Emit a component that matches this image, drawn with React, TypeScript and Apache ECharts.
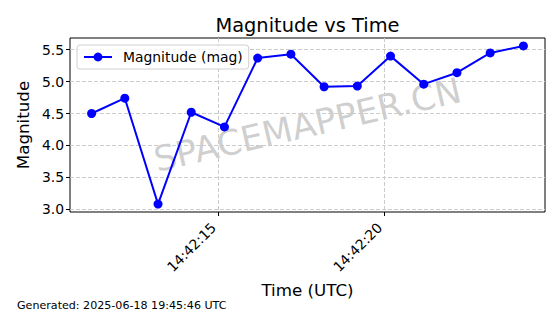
import React, { useEffect, useRef } from "react";
import * as echarts from "echarts";

const timeSeconds = [11.2, 12.2, 13.2, 14.2, 15.2, 16.2, 17.2, 18.2, 19.2, 20.2, 21.2, 22.2, 23.2, 24.2];
const magnitudes = [4.5, 4.74, 3.08, 4.52, 4.29, 5.37, 5.43, 4.92, 4.93, 5.4, 4.96, 5.14, 5.45, 5.56];
const xTickValues = [15, 20];
const yTickValues = [3.0, 3.5, 4.0, 4.5, 5.0, 5.5];

const FONT = "DejaVu Sans";

export default function App() {
  const ref = useRef<HTMLDivElement>(null);
  useEffect(() => {
    if (!ref.current) return;
    const chart = echarts.init(ref.current, null, { renderer: "svg" });
    const data = timeSeconds.map((t, i) => [t, magnitudes[i]]);
    const gridLine = { show: true, lineStyle: { color: "#cccccc", type: [4, 2], width: 1 } };
    chart.setOption({
      animation: false,
      textStyle: { fontFamily: FONT },
      grid: {
        left: 70,
        right: 15,
        top: 38,
        bottom: 102,
        show: true,
        borderColor: "#000",
        borderWidth: 1,
        backgroundColor: "transparent",
      },
      legend: {
        show: true,
        left: 77,
        top: 45,
        orient: "vertical",
        padding: [5, 6],
        itemWidth: 28,
        itemHeight: 11,
        borderColor: "#d0d0d0",
        borderWidth: 1,
        borderRadius: 3,
        backgroundColor: "rgba(255,255,255,0.8)",
        textStyle: { fontFamily: FONT, fontSize: 13.9, color: "#000", padding: [0, 0, 0, 6] },
        data: ["Magnitude (mag)"],
      },
      xAxis: {
        type: "value",
        min: 10.55,
        max: 24.85,
        name: "Time (UTC)",
        nameLocation: "middle",
        nameGap: 68,
        nameTextStyle: { fontFamily: FONT, fontSize: 16.7, color: "#000" },
        axisLine: { show: false },
        axisTick: { show: true, customValues: xTickValues, length: 4, lineStyle: { color: "#000" } },
        axisLabel: {
          customValues: xTickValues,
          rotate: 45,
          margin: 9,
          padding: [0, 6, 0, 0],
          fontFamily: FONT,
          fontSize: 13.9,
          color: "#000",
          formatter: (v: number) => "14:42:" + String(Math.round(v)).padStart(2, "0"),
        },
        splitLine: gridLine,
      },
      yAxis: {
        type: "value",
        min: 2.956,
        max: 5.684,
        name: "Magnitude",
        nameLocation: "middle",
        nameGap: 37,
        nameTextStyle: { fontFamily: FONT, fontSize: 16.7, color: "#000" },
        axisLine: { show: false },
        axisTick: { show: true, customValues: yTickValues, length: 4, lineStyle: { color: "#000" } },
        axisLabel: {
          customValues: yTickValues,
          margin: 6,
          fontFamily: FONT,
          fontSize: 13.9,
          color: "#000",
          formatter: (v: number) => v.toFixed(1),
        },
        splitLine: gridLine,
      },
      graphic: [
        {
          type: "text",
          x: 307.5,
          y: 25.5,
          style: {
            text: "Magnitude vs Time",
            fontFamily: FONT,
            fontSize: 19.4,
            fill: "#000",
            align: "center",
            verticalAlign: "middle",
          },
        },
        {
          type: "text",
          x: 307.5,
          y: 125,
          rotation: (13 * Math.PI) / 180,
          z: -1,
          style: {
            text: "SPACEMAPPER.CN",
            fontFamily: FONT,
            fontSize: 35,
            fill: "rgba(128,128,128,0.38)",
            align: "center",
            verticalAlign: "middle",
          },
        },
        {
          type: "text",
          x: 17,
          y: 305,
          style: {
            text: "Generated: 2025-06-18 19:45:46 UTC",
            fontFamily: FONT,
            fontSize: 11.1,
            fill: "#000",
            align: "left",
            verticalAlign: "middle",
          },
        },
      ],
      series: [
        {
          name: "Magnitude (mag)",
          type: "line",
          data,
          symbol: "circle",
          symbolSize: 9,
          lineStyle: { color: "#0000ff", width: 2 },
          itemStyle: { color: "#0000ff" },
          z: 3,
        },
      ],
    });
    return () => chart.dispose();
  }, []);
  return <div ref={ref} style={{ width: 560, height: 314, position: "absolute", left: 0, top: 0 }} />;
}
